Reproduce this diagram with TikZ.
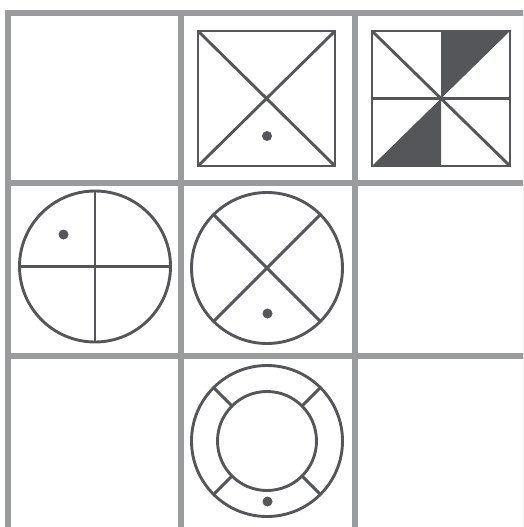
\documentclass[tikz,border=0pt]{standalone}
\usetikzlibrary{calc}
\definecolor{gridgray}{HTML}{9A9B9D}
\definecolor{ink}{HTML}{55565A}
\tikzset{
  gridline/.style={draw=gridgray,line width=6pt},
  figline/.style={draw=ink,line width=2.9pt},
  dotfill/.style={fill=ink,draw=none},
  darkfill/.style={fill=ink,draw=none}
}
\begin{document}
\begin{tikzpicture}[x=1pt,y=-1pt]
\useasboundingbox (0,0) rectangle (523,527);
\begin{scope}
\clip (0,0) rectangle (523,527);
% grid
\draw[gridline] (8,10) -- (8,535);
\draw[gridline] (181,10) -- (181,535);
\draw[gridline] (355,10) -- (355,535);
\draw[gridline] (526.3,10) -- (526.3,535);
\draw[gridline] (5,13) -- (535,13);
\draw[gridline] (5,183) -- (535,183);
\draw[gridline] (5,356) -- (535,356);
\draw[gridline] (5,530.3) -- (535,530.3);
\end{scope}
% square with X and dot
\coordinate (aTL) at (198,31);
\coordinate (aBR) at (335,166);
\coordinate (aTR) at (335,31);
\coordinate (aBL) at (198,166);
\draw[figline] (aTL) rectangle (aBR);
\draw[figline] (aTL) -- (aBR);
\draw[figline] (aTR) -- (aBL);
\fill[dotfill] (267,136) circle (5);
% square with shaded triangles
\coordinate (bTL) at (372,31);
\coordinate (bBR) at (510,166);
\coordinate (bTR) at (510,31);
\coordinate (bBL) at (372,166);
\coordinate (bC) at (441,98.5);
\fill[darkfill] (bC) -- (441,31) -- (bTR) -- cycle;
\fill[darkfill] (bC) -- (441,166) -- (bBL) -- cycle;
\draw[figline] (bTL) rectangle (bBR);
\draw[figline] (bTL) -- (bBR);
\draw[figline] (372,98.5) -- (510,98.5);
% circle with plus and dot
\coordinate (cC) at (95,266.5);
\draw[figline] (cC) circle (75.5);
\draw[figline] ($(cC)+(0,-75.5)$) -- ($(cC)+(0,75.5)$);
\draw[figline] ($(cC)+(-75.5,0)$) -- ($(cC)+(75.5,0)$);
\fill[dotfill] (63.5,234.5) circle (5);
% circle with X and dot
\coordinate (dC) at (267,268);
\draw[figline] (dC) circle (75.5);
\draw[figline] ($(dC)+(135:75.5)$) -- ($(dC)+(-45:75.5)$);
\draw[figline] ($(dC)+(45:75.5)$) -- ($(dC)+(-135:75.5)$);
\fill[dotfill] (267.5,313.5) circle (5);
% ring with spokes and dot
\coordinate (eC) at (267,441);
\draw[figline] (eC) circle (75.5);
\draw[figline] (eC) circle (49.5);
\foreach \a in {45,135,225,315}{
  \draw[figline] ($(eC)+(\a:49.5)$) -- ($(eC)+(\a:75.5)$);
}
\fill[dotfill] (267.5,501.5) circle (5);
\end{tikzpicture}
\end{document}
